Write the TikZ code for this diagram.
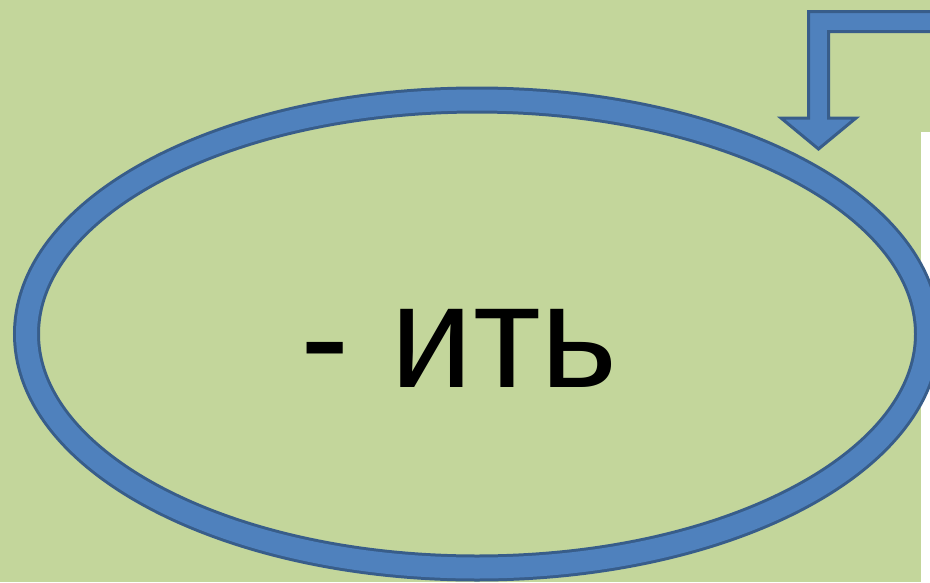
\documentclass[tikz,border=0pt]{standalone}
\usepackage{fontspec}
\setmainfont{Liberation Sans}
\usetikzlibrary{shapes.geometric}
\definecolor{leafc}{RGB}{195,214,155}
\definecolor{ringc}{RGB}{79,129,189}
\definecolor{edgec}{RGB}{56,93,138}
\tikzset{
  ring/.style={
    ellipse, draw=edgec, line width=3pt, double=ringc, double distance=21pt,
    inner sep=0pt, minimum width=901pt, minimum height=468pt
  },
  suffix/.style={font=\fontsize{148}{160}\selectfont, text=black, inner sep=0pt},
  bent/.style={fill=ringc, draw=edgec, line width=3pt, line join=miter},
}
\begin{document}
\begin{tikzpicture}[x=1pt, y=-1pt]

  \useasboundingbox (0,0) rectangle (930,582);
  \clip (0,0) rectangle (930,582);
  \fill[leafc] (0,0) rectangle (930,582);
  \fill[white] (921,132) rectangle (935,590);

  % the ending in its ring
  \node[ring] (ending) at (477,334) {};
  \node[suffix, anchor=base] (word) at (459,387) {- ить};

  % arrow coming in from the top right
  \draw[bent] (940,11.5) -- (808.5,11.5) -- (808.5,118) -- (781,118)
    -- (818.5,149) -- (856,118) -- (828.5,118) -- (828.5,31.5)
    -- (940,31.5) -- cycle;

\end{tikzpicture}
\end{document}
